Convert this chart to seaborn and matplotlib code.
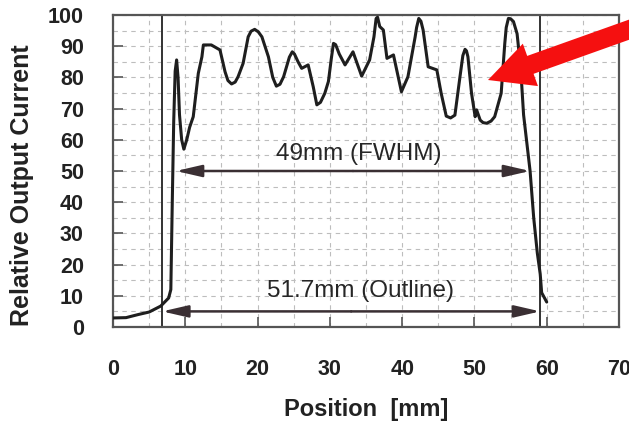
import numpy as np
import pandas as pd
import matplotlib
matplotlib.use("Agg")
import matplotlib.pyplot as plt
from matplotlib.patches import FancyArrow
from matplotlib.ticker import MultipleLocator
import seaborn as sns

# ---- data ----
position_mm = [0.0, 1.8, 3.5, 5.0, 6.6, 7.7, 8.0, 8.2, 8.4, 8.6, 8.8, 9.0, 9.2, 9.5, 9.8,
               10.2, 10.6, 11.1, 11.8, 12.3, 12.5, 13.6, 14.8, 15.5, 15.9, 16.4, 16.9,
               17.3, 18.0, 18.7, 19.1, 19.6, 20.1, 20.6, 21.5, 22.1, 22.6, 23.1, 23.6,
               24.4, 24.8, 25.1, 25.6, 26.1, 27.0, 27.7, 28.2, 28.7, 29.3, 29.8, 30.2,
               30.5, 30.8, 31.3, 32.1, 33.2, 34.4, 35.5, 36.1, 36.4, 36.6, 36.9, 37.4,
               37.9, 38.8, 39.9, 40.8, 41.8, 42.0, 42.3, 42.6, 42.9, 43.6, 44.8, 45.4,
               46.1, 46.7, 47.3, 48.0, 48.4, 48.7, 48.9, 49.1, 49.6, 50.1, 50.3, 50.8,
               51.2, 51.7, 52.3, 52.8, 53.7, 54.2, 54.4, 54.7, 55.0, 55.4, 55.9, 56.4,
               56.8, 57.2, 57.7, 58.2, 58.7, 59.1, 59.3, 60.0]
relative_current = [2.9, 3.0, 4.0, 4.8, 6.7, 9.3, 12.0, 40.0, 66.0, 82.0, 85.6, 80.0, 68.0,
                    60.0, 57.0, 60.0, 64.0, 67.4, 81.3, 86.6, 90.4, 90.4, 88.8, 81.8, 79.0,
                    77.9, 78.5, 80.2, 84.5, 93.0, 94.8, 95.4, 94.6, 93.0, 86.6, 80.0, 77.2,
                    77.8, 80.2, 86.5, 88.2, 87.5, 85.0, 82.9, 84.0, 77.0, 71.2, 72.0, 74.9,
                    78.7, 86.0, 90.9, 90.5, 87.5, 84.0, 88.2, 80.4, 85.6, 93.0, 98.9, 99.3,
                    96.3, 95.2, 86.1, 87.2, 75.4, 80.2, 93.0, 96.0, 98.9, 98.0, 95.2, 83.4,
                    82.4, 74.9, 67.6, 67.0, 67.9, 80.2, 87.0, 89.0, 88.5, 86.6, 74.9, 67.4,
                    69.6, 66.3, 65.5, 65.3, 66.0, 67.4, 74.9, 90.9, 96.0, 98.9, 98.8, 97.9,
                    94.0, 83.0, 68.0, 60.0, 50.0, 35.0, 23.7, 17.0, 11.0, 8.0]

outline_edges = [6.8, 59.1]
fwhm_span = [8.7, 57.7]
fwhm_level = 50
outline_level = 5
fwhm_label = "49mm (FWHM)"
outline_label = "51.7mm (Outline)"
x_ticks = [0, 10, 20, 30, 40, 50, 60, 70]
y_ticks = [0, 10, 20, 30, 40, 50, 60, 70, 80, 90, 100]

df = pd.DataFrame({"Position": position_mm, "Current": relative_current})

sns.set_theme(style="white")
plt.rcParams["font.family"] = ["Liberation Sans", "DejaVu Sans"]

fig = plt.figure(figsize=(6.29, 4.23), dpi=100)
ax = fig.add_axes([113 / 629, 1 - 327 / 423, 506 / 629, 312 / 423])

# grid
ax.xaxis.set_minor_locator(MultipleLocator(5))
ax.yaxis.set_minor_locator(MultipleLocator(5))
ax.grid(True, which="both", color="#bdbdbd", linestyle=(0, (4, 4)), linewidth=0.8)
ax.set_axisbelow(True)

# vertical outline lines
for xe in outline_edges:
    ax.axvline(xe, color="#333333", linewidth=1.4, zorder=2)

sns.lineplot(data=df, x="Position", y="Current", ax=ax, sort=False, estimator=None,
             color="#1e1e1e", linewidth=2.2, zorder=3, solid_joinstyle="round")

# dimension arrows
arrow_kw = dict(arrowstyle="-|>,head_length=1.3,head_width=0.3", color="#3a2f33",
                linewidth=1.8, shrinkA=0, shrinkB=0)
mid = (fwhm_span[0] + fwhm_span[1]) / 2
for end in fwhm_span:
    ax.annotate("", xy=(end, fwhm_level), xytext=(mid, fwhm_level), arrowprops=arrow_kw, zorder=4)
mid2 = (outline_edges[0] + outline_edges[1]) / 2
for end in outline_edges:
    ax.annotate("", xy=(end, outline_level), xytext=(mid2, outline_level), arrowprops=arrow_kw, zorder=4)

ax.text(34.0, 55.5, fwhm_label, ha="center", va="center", fontsize=17.5, color="#262626")
ax.text(34.3, 11.5, outline_label, ha="center", va="center", fontsize=17.5, color="#262626")

ax.set_xlim(0, 70)
ax.set_ylim(0, 100)
ax.set_xticks(x_ticks)
ax.set_yticks(y_ticks)
ax.tick_params(axis="both", which="major", direction="in", length=7, width=1.2,
               color="#555555", labelsize=15.5, labelcolor="#222222")
ax.tick_params(axis="x", which="major", pad=23, bottom=True)
ax.tick_params(axis="y", which="major", pad=21, left=True)
ax.tick_params(which="minor", length=0)
for lbl in ax.get_xticklabels() + ax.get_yticklabels():
    lbl.set_fontweight("bold")

ax.set_xlabel("Position  [mm]", fontsize=17, fontweight="bold", color="#222222", labelpad=13)
ax.set_ylabel("Relative Output Current", fontsize=18, fontweight="bold", color="#222222")
ax.yaxis.set_label_coords(-0.157, 0.455)

for sp in ax.spines.values():
    sp.set_visible(True)
    sp.set_color("#555555")
    sp.set_linewidth(1.6)

# red pointer arrow (figure pixel coordinates / 100 = inches)
tip = (488, 80)
tail = (645, 24)
red = FancyArrow(tail[0] / 100, (423 - tail[1]) / 100,
                 (tip[0] - tail[0]) / 100, -(tip[1] - tail[1]) / 100,
                 width=0.19, head_width=0.45, head_length=0.45,
                 length_includes_head=True, color="#f51010", linewidth=0,
                 transform=fig.dpi_scale_trans, zorder=10)
fig.patches.append(red)

fig.savefig("out.png", dpi=100)
